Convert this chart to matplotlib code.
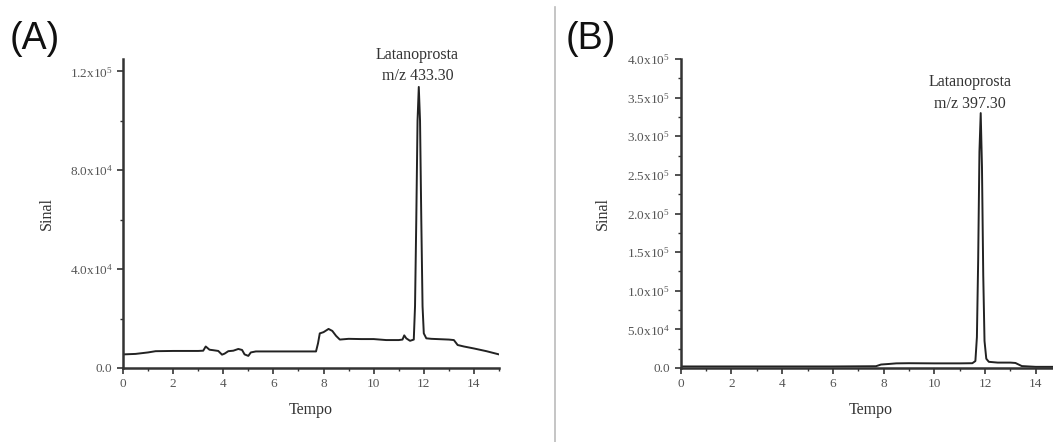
import numpy as np
import matplotlib
matplotlib.use('Agg')
import matplotlib.pyplot as plt
from matplotlib.ticker import MultipleLocator, FixedLocator

# Chromatogram (A) - m/z 433.30
time_a = [0, 0.5, 1.0, 1.3, 2.0, 3.0, 3.2, 3.3, 3.45, 3.6, 3.8, 3.95, 4.05, 4.2,
          4.4, 4.6, 4.75, 4.85, 5.0, 5.1, 5.3, 6.0, 7.0, 7.7, 7.78, 7.85, 8.0,
          8.2, 8.35, 8.5, 8.65, 9.0, 9.5, 10.0, 10.5, 11.0, 11.15, 11.22, 11.3,
          11.45, 11.6, 11.65, 11.7, 11.75, 11.8, 11.85, 11.9, 11.95, 12.0, 12.1,
          12.3, 13.0, 13.2, 13.35, 13.6, 14.0, 14.5, 15.0]
signal_a = [5.5e3, 5.7e3, 6.3e3, 6.8e3, 6.9e3, 6.9e3, 7.0e3, 8.7e3, 7.4e3, 7.2e3,
            6.9e3, 5.4e3, 5.8e3, 6.8e3, 7.0e3, 7.7e3, 7.3e3, 5.5e3, 4.9e3, 6.3e3,
            6.7e3, 6.7e3, 6.7e3, 6.7e3, 1.0e4, 1.4e4, 1.45e4, 1.58e4, 1.5e4,
            1.3e4, 1.15e4, 1.18e4, 1.17e4, 1.17e4, 1.13e4, 1.13e4, 1.15e4, 1.32e4,
            1.2e4, 1.1e4, 1.15e4, 2.5e4, 6.0e4, 1.0e5, 1.137e5, 1.0e5, 6.0e4,
            2.5e4, 1.4e4, 1.2e4, 1.18e4, 1.15e4, 1.13e4, 9.3e3, 8.7e3, 7.9e3,
            6.8e3, 5.5e3]

# Chromatogram (B) - m/z 397.30
time_b = [0, 2.0, 4.0, 6.0, 7.7, 7.9, 8.2, 8.5, 9.0, 10.0, 11.0, 11.5, 11.62,
          11.68, 11.73, 11.78, 11.83, 11.88, 11.93, 11.98, 12.05, 12.15, 12.5,
          13.0, 13.2, 13.45, 14.0, 15.0]
signal_b = [2.0e3, 2.0e3, 2.0e3, 2.0e3, 2.3e3, 4.5e3, 5.2e3, 6.0e3, 6.2e3, 6.0e3,
            6.0e3, 6.2e3, 9.0e3, 4.0e4, 1.4e5, 2.8e5, 3.3e5, 2.6e5, 1.2e5, 3.5e4,
            1.2e4, 8.0e3, 7.0e3, 7.0e3, 6.5e3, 2.5e3, 1.5e3, 1.5e3]

ticks_a = [0, 4e4, 8e4, 1.2e5]
ticklabels_a = ['0.0', r'4.0x10$^4$', r'8.0x10$^4$', r'1.2x10$^5$']
ticks_b = [0, 5e4, 1e5, 1.5e5, 2e5, 2.5e5, 3e5, 3.5e5, 4e5]
ticklabels_b = ['0.0', r'5.0x10$^4$', r'1.0x10$^5$', r'1.5x10$^5$', r'2.0x10$^5$',
                r'2.5x10$^5$', r'3.0x10$^5$', r'3.5x10$^5$', r'4.0x10$^5$']

plt.rcParams['font.family'] = ['Liberation Serif', 'DejaVu Serif']
plt.rcParams['mathtext.fontset'] = 'custom'
plt.rcParams['mathtext.rm'] = 'Liberation Serif'
plt.rcParams['mathtext.it'] = 'Liberation Serif'

txt = '#333333'
line_col = '#222222'

fig = plt.figure(figsize=(10.53, 4.42), dpi=100)

def style_axes(ax, ymax, yticks, ylabels, yminor):
    for s in ['top', 'right']:
        ax.spines[s].set_visible(False)
    for s in ['left', 'bottom']:
        ax.spines[s].set_linewidth(1.8)
        ax.spines[s].set_color('#333333')
    ax.set_xlim(0, 15)
    ax.set_ylim(0, ymax)
    ax.xaxis.set_major_locator(MultipleLocator(2))
    ax.xaxis.set_minor_locator(MultipleLocator(1))
    ax.yaxis.set_major_locator(FixedLocator(yticks))
    ax.set_yticklabels(ylabels)
    ax.yaxis.set_minor_locator(MultipleLocator(yminor))
    ax.tick_params(which='major', length=4, width=1.2, colors='#333333',
                   labelsize=9.5, labelcolor='#555555')
    ax.tick_params(which='minor', length=2.5, width=1.0, colors='#333333')
    ax.set_xlabel('Tempo', fontsize=11.5, color=txt, labelpad=8)
    ax.set_ylabel('Sinal', fontsize=11.5, color=txt)

# Panel A
ax1 = fig.add_axes([123/1053, 1-368/442, 376/1053, 309/442])
ax1.plot(time_a, signal_a, color=line_col, lw=1.4)
style_axes(ax1, 1.25e5, ticks_a, ticklabels_a, 2e4)
ax1.text(11.75, 1.149e5, 'Latanoprosta\nm/z 433.30', ha='center', va='bottom',
         fontsize=11.5, color=txt, linespacing=1.45)
ax1.yaxis.set_label_coords(-0.181, 0.5)

# Panel B (right part is cut by the image border)
ax2 = fig.add_axes([680.7/1053, 1-368/442, 380.4/1053, 309/442])
ax2.plot(time_b, signal_b, color=line_col, lw=1.4)
style_axes(ax2, 4.0e5, ticks_b, ticklabels_b, 2.5e4)
ax2.text(11.41, 3.32e5, 'Latanoprosta\nm/z 397.30', ha='center', va='bottom',
         fontsize=11.5, color=txt, linespacing=1.45)
ax2.yaxis.set_label_coords(-0.183, 0.5)

# Panel letters
fig.text(10/1053, 1-57/442, '(A)', fontsize=27, family='Liberation Sans',
         color='#111111', ha='left', va='bottom')
fig.text(566/1053, 1-57/442, '(B)', fontsize=27, family='Liberation Sans',
         color='#111111', ha='left', va='bottom')

# Divider
fig.add_artist(plt.Line2D([555/1053, 555/1053], [0, 1-7/442],
                          transform=fig.transFigure, color='#bbbbbb', lw=1.2))

fig.savefig('out.png', dpi=100)
